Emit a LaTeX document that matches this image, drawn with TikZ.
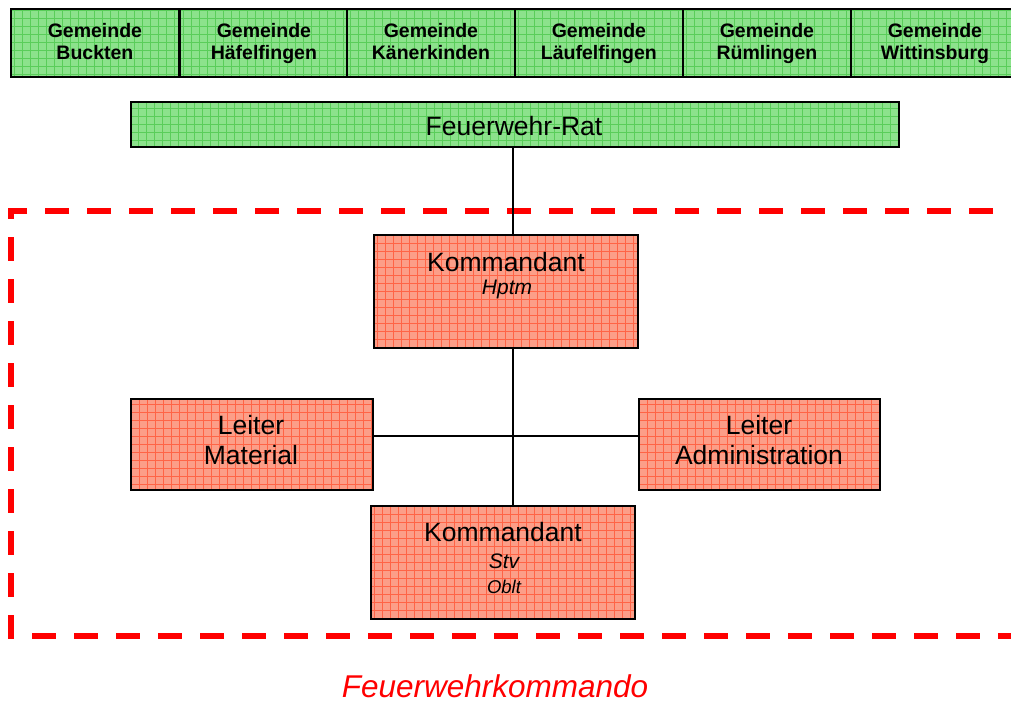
\documentclass[tikz,border=0pt]{standalone}
\usepackage{fontspec}
\setmainfont{Liberation Sans}
\definecolor{gemgreen}{RGB}{140,226,140}
\definecolor{gemgrid}{RGB}{90,205,90}
\definecolor{boxred}{RGB}{252,158,136}
\definecolor{redgrid}{RGB}{255,100,70}
\definecolor{dashred}{RGB}{255,0,0}
\begin{document}
\begin{tikzpicture}[x=1pt,y=-1pt,
  greengrid/.style={path picture={\draw[gemgrid,line width=0.9pt]
      (path picture bounding box.south west) grid[step=8pt] (path picture bounding box.north east);}},
  redgridst/.style={path picture={\draw[redgrid,line width=0.9pt]
      (path picture bounding box.south west) grid[step=8pt] (path picture bounding box.north east);}},
  gem/.style={draw=black,line width=1.8pt,fill=gemgreen,greengrid,anchor=north west,inner sep=0pt,
    minimum width=168pt,minimum height=68pt},
  ratbox/.style={draw=black,line width=1.6pt,fill=gemgreen,greengrid,anchor=north west,inner sep=0pt},
  redbox/.style={draw=black,line width=1.8pt,fill=boxred,redgridst,anchor=north west,inner sep=0pt},
  gtxt/.style={anchor=base,inner sep=0pt,font=\bfseries\fontsize{19.5}{22}\selectfont},
  txt/.style={anchor=base,inner sep=0pt,font=\fontsize{26.5}{30}\selectfont},
  itxt/.style={anchor=base,inner sep=0pt,font=\itshape\fontsize{21}{24}\selectfont},
  conn/.style={draw=black,line width=1.8pt},
  cmd/.style={draw=dashred,line width=5.5pt,dash pattern=on 24pt off 18pt,dash phase=37pt}]
\path[use as bounding box] (0,0) rectangle (1011,704);
\clip (0,0) rectangle (1011,704);
% Gemeinden
\node[gem] (g1) at (10,8) {};
\node[gem] (g2) at (179,8) {};
\node[gem] (g3) at (346,8) {};
\node[gem] (g4) at (514,8) {};
\node[gem] (g5) at (682,8) {};
\node[gem,minimum width=168pt] (g6) at (850,8) {};
\foreach \n/\name in {g1/Buckten,g2/Häfelfingen,g3/Känerkinden,g4/Läufelfingen,g5/Rümlingen,g6/Wittinsburg}{
  \node[gtxt] (\n a) at ([yshift=-29pt]\n.north) {Gemeinde};
  \node[gtxt] (\n b) at ([yshift=-51.5pt]\n.north) {\name};
}
% Rat
\node[ratbox,minimum width=768pt,minimum height=45pt] (rat) at (130,101) {};
\node[txt] (ratt) at (514,135) {Feuerwehr-Rat};
% Kommando frame
\draw[cmd] (1040,211) -- (11,211) -- (11,636) -- (1040,636);
% Kommandant
\node[redbox,minimum width=264pt,minimum height=113pt] (kom) at (373,234) {};
\node[txt] (komt) at (506,271) {Kommandant};
\node[itxt] (komh) at (507,294.5) {Hptm};
% Leiter
\node[redbox,minimum width=242pt,minimum height=91pt] (mat) at (130,398) {};
\node[txt] (matl) at (251,434) {Leiter};
\node[txt] (matm) at (251,464) {Material};
\node[redbox,minimum width=241pt,minimum height=91pt] (adm) at (638,398) {};
\node[txt] (adml) at (759,434) {Leiter};
\node[txt] (adma) at (759,464) {Administration};
% Stv
\node[redbox,minimum width=264pt,minimum height=113pt] (stv) at (370,505) {};
\node[txt] (stvt) at (503,541) {Kommandant};
\node[itxt] (stvs) at (504,568) {Stv};
\node[itxt,font=\itshape\fontsize{18.5}{22}\selectfont] (stvo) at (504,593) {Oblt};
% connectors
\coordinate (vx) at (513,0);
\coordinate (hl) at (0,436);
\draw[conn] (rat.south -| vx) -- (kom.north -| vx);
\draw[conn] (kom.south -| vx) -- (stv.north -| vx);
\draw[conn] (mat.east |- hl) -- (adm.west |- hl);
% label
\node[anchor=base,inner sep=0pt,text=dashred,font=\itshape\fontsize{31.5}{36}\selectfont] (lab) at (495,697) {Feuerwehrkommando};
\end{tikzpicture}
\end{document}
